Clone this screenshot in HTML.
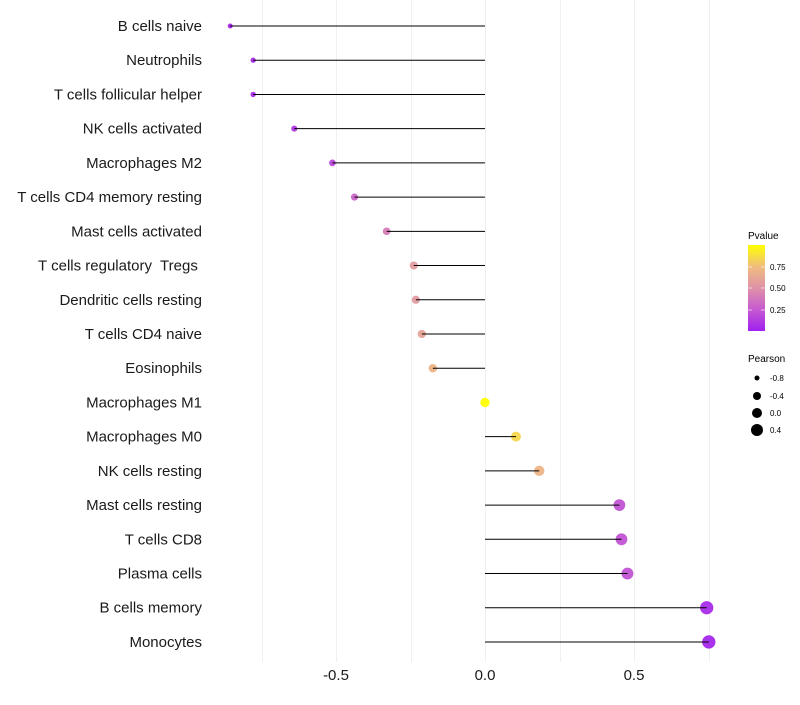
<!DOCTYPE html>
<html><head><meta charset="utf-8"><style>
body{margin:0;background:#fff;font-family:"Liberation Sans",sans-serif}
text{white-space:pre}
</style></head><body>
<svg id="chart" width="800" height="700" xmlns="http://www.w3.org/2000/svg" font-family="Liberation Sans, sans-serif">
<defs><linearGradient id="pg" x1="0" y1="1" x2="0" y2="0">
<stop offset="0" stop-color="#a020f0"/><stop offset="0.25" stop-color="#c65ad0"/><stop offset="0.5" stop-color="#df92a8"/><stop offset="0.75" stop-color="#f0bd7e"/><stop offset="1" stop-color="#ffff00"/></linearGradient></defs>
<g id="grid"></g><g id="pts"></g><g id="stems"></g><g id="labels"></g><g id="xt"></g>
<g>
<text x="748" y="239" font-size="10">Pvalue</text>
<rect x="748" y="245" width="17" height="86" fill="url(#pg)"/>
<line x1="748" x2="752" y1="267" y2="267" stroke="#fff" opacity=".6"/><line x1="761" x2="765" y1="267" y2="267" stroke="#fff" opacity=".6"/>
<line x1="748" x2="752" y1="288" y2="288" stroke="#fff" opacity=".6"/><line x1="761" x2="765" y1="288" y2="288" stroke="#fff" opacity=".6"/>
<line x1="748" x2="752" y1="310" y2="310" stroke="#fff" opacity=".6"/><line x1="761" x2="765" y1="310" y2="310" stroke="#fff" opacity=".6"/>
<text x="770" y="270" font-size="8">0.75</text><text x="770" y="291" font-size="8">0.50</text><text x="770" y="313" font-size="8">0.25</text>
</g>
<g>
<text x="748" y="362" font-size="10">Pearson</text>
<circle cx="757" cy="378" r="2.5"/><text x="770" y="381" font-size="8">-0.8</text>
<circle cx="757" cy="396" r="4"/><text x="770" y="399" font-size="8">-0.4</text>
<circle cx="757" cy="413" r="5"/><text x="770" y="416" font-size="8">0.0</text>
<circle cx="757" cy="430" r="6"/><text x="770" y="433" font-size="8">0.4</text>
</g>
</svg>
<script>
const categories=["B cells naive","Neutrophils","T cells follicular helper","NK cells activated","Macrophages M2","T cells CD4 memory resting","Mast cells activated","T cells regulatory  Tregs ","Dendritic cells resting","T cells CD4 naive","Eosinophils","Macrophages M1","Macrophages M0","NK cells resting","Mast cells resting","T cells CD8","Plasma cells","B cells memory","Monocytes"];
const pearson=[-0.855,-0.778,-0.778,-0.64,-0.512,-0.438,-0.33,-0.239,-0.232,-0.212,-0.175,0.0,0.104,0.182,0.451,0.458,0.478,0.744,0.751];
const pvalues=[0.02,0.05,0.05,0.1,0.18,0.3,0.4,0.55,0.55,0.6,0.7,1.0,0.85,0.7,0.22,0.22,0.22,0.05,0.03];
const xTicks=[-0.5,0,0.5];
const xTickLabels=["-0.5","0.0","0.5"];
const NS="http://www.w3.org/2000/svg";
const x=v=>485+v*298;
const y=i=>26+i*34.22;
const stops=[[0,[160,32,240]],[0.25,[198,90,208]],[0.5,[223,146,168]],[0.75,[240,189,126]],[1,[255,255,0]]];
function col(p){for(let k=1;k<stops.length;k++){if(p<=stops[k][0]){const a=stops[k-1],b=stops[k],t=(p-a[0])/(b[0]-a[0]);return "rgb("+a[1].map((c,j)=>Math.round(c+(b[1][j]-c)*t)).join(",")+")";}}return "rgb(255,255,0)";}
function mk(t,a,parent){const e=document.createElementNS(NS,t);for(const k in a)e.setAttribute(k,a[k]);document.getElementById(parent).appendChild(e);return e;}
for(let g=-0.75;g<=0.76;g+=0.25){const gx=Math.round(x(g))+0.5;const l=mk("line",{x1:gx,x2:gx,y1:0,y2:662,stroke:"#f0f0f0","stroke-width":1},"grid");

}
categories.forEach((c,i)=>{
 const r=Math.max(1.5,4.7+2.6*pearson[i]);
 const d=mk("circle",{cx:x(pearson[i]),cy:y(i),r:r,fill:col(pvalues[i]),opacity:0.95},"pts");
 
 
 const s=mk("line",{x1:x(0),x2:x(pearson[i]),y1:y(i),y2:y(i),stroke:"#000","stroke-width":1},"stems");
 
 
 const t=mk("text",{x:202,y:y(i)+5,"text-anchor":"end","font-size":15,fill:"#1a1a1a"},"labels");
 t.textContent=c;
 
 
});
xTicks.forEach((v,i)=>{const t=mk("text",{x:x(v),y:680,"text-anchor":"middle","font-size":15,fill:"#1a1a1a"},"xt");
t.textContent=xTickLabels[i];

});
</script>
</body></html>
